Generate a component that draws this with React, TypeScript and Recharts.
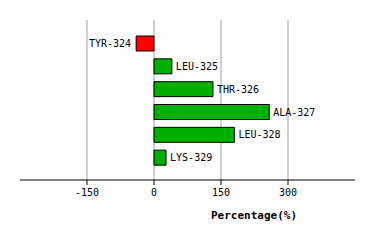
import React from 'react';
import { BarChart, Bar, XAxis, YAxis, CartesianGrid, Cell, LabelList } from 'recharts';

const residues = ['TYR-324', 'LEU-325', 'THR-326', 'ALA-327', 'LEU-328', 'LYS-329'];
const percentages = [-40, 40, 132, 258, 180, 27];
const xTicks = [-150, 0, 150, 300];

const data = residues.map((name, i) => ({ name, value: percentages[i] }));

const FONT = '"DejaVu Sans Mono", monospace';

const BarLabel = (props: any) => {
  const { x, y, width, height, value, index } = props;
  const left = Math.min(x, x + width);
  const right = Math.max(x, x + width);
  const neg = value < 0;
  return (
    <text
      x={neg ? left - 5 : right + 4}
      y={y + height / 2}
      dy='0.35em'
      textAnchor={neg ? 'end' : 'start'}
      fontFamily={FONT}
      fontSize={10}
      fill='#000'
    >
      {residues[index]}
    </text>
  );
};

const AxisTitle = () => (
  <text x={254} y={215} dy='0.35em' textAnchor='middle' fontFamily={FONT} fontSize={11} fontWeight='bold' fill='#000'>
    Percentage(%)
  </text>
);

export default function App() {
  return (
    <div style={{ position: 'absolute', left: 0, top: 0, background: '#fff' }}>
      <BarChart
        width={374}
        height={240}
        data={data}
        layout='vertical'
        margin={{ top: 20, right: 19, left: 20, bottom: 0 }}
      >
        <CartesianGrid horizontal={false} verticalValues={xTicks} stroke='#a0a0a0' strokeWidth={1} />
        <XAxis
          type='number'
          domain={[-300, 450]}
          ticks={xTicks}
          interval={0}
          height={60}
          axisLine={{ stroke: '#000' }}
          tickLine={{ stroke: '#000' }}
          tickSize={5}
          tickMargin={4}
          tick={{ fontFamily: FONT, fontSize: 10, fill: '#000' }}
          label={<AxisTitle />}
        />
        <YAxis type='category' dataKey='name' hide padding={{ top: 12, bottom: 11 }} />
        <Bar dataKey='value' barSize={15} stroke='#000' strokeWidth={1} isAnimationActive={false}>
          {data.map((d, i) => (
            <Cell key={i} fill={d.value < 0 ? '#ff0000' : '#00b000'} />
          ))}
          <LabelList dataKey='value' content={<BarLabel />} />
        </Bar>
      </BarChart>
    </div>
  );
}
